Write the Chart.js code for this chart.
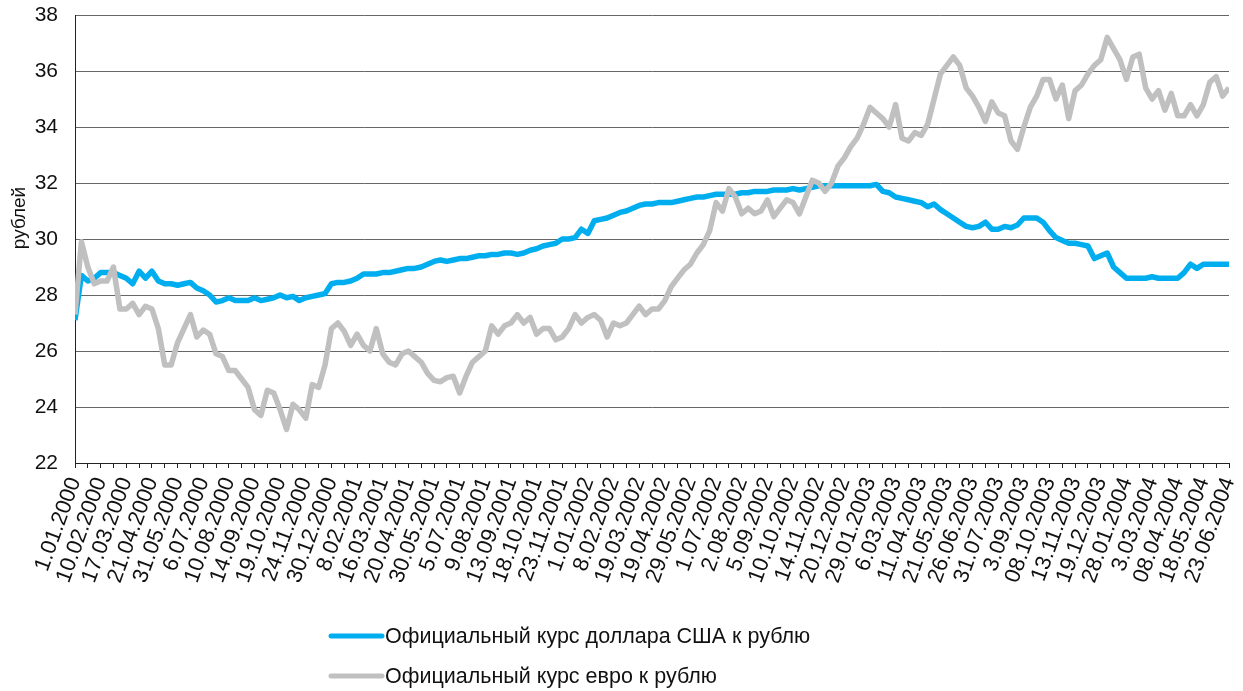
<!DOCTYPE html>
<html>
<head>
<meta charset="utf-8">
<script src="https://cdn.jsdelivr.net/npm/chart.js@4/dist/chart.umd.min.js"></script>
<style>
  html, body { margin: 0; padding: 0; background: #fff; }
  canvas { display: block; }
</style>
</head>
<body>
<canvas id="rateChart" width="1243" height="691"></canvas>
<script>
// ─── Data ─────────────────────────────────────────────────────────────────────

// date labels, one every 4 samples
const dateLabels = [
  '1.01.2000', '10.02.2000', '17.03.2000', '21.04.2000', '31.05.2000', '6.07.2000',
  '10.08.2000', '14.09.2000', '19.10.2000', '24.11.2000', '30.12.2000', '8.02.2001',
  '16.03.2001', '20.04.2001', '30.05.2001', '5.07.2001', '9.08.2001', '13.09.2001',
  '18.10.2001', '23.11.2001', '1.01.2002', '8.02.2002', '19.03.2002', '19.04.2002',
  '29.05.2002', '1.07.2002', '2.08.2002', '5.09.2002', '10.10.2002', '14.11.2002',
  '20.12.2002', '29.01.2003', '6.03.2003', '11.04.2003', '21.05.2003', '26.06.2003',
  '31.07.2003', '3.09.2003', '08.10.2003', '13.11.2003', '19.12.2003', '28.01.2004',
  '3.03.2004', '08.04.2004', '18.05.2004', '23.06.2004',
];
const SAMPLES_PER_LABEL = 4;

const usdRates = [
  27.1, 28.7, 28.5, 28.6, 28.8, 28.8, 28.8, 28.7, 28.6, 28.4,
  28.85, 28.6, 28.85, 28.5, 28.4, 28.4, 28.35, 28.4, 28.45, 28.25,
  28.15, 28.0, 27.75, 27.8, 27.9, 27.8, 27.8, 27.8, 27.9, 27.8,
  27.85, 27.9, 28.0, 27.9, 27.95, 27.8, 27.9, 27.95, 28.0, 28.05,
  28.4, 28.45, 28.45, 28.5, 28.6, 28.75, 28.75, 28.75, 28.8, 28.8,
  28.85, 28.9, 28.95, 28.95, 29.0, 29.1, 29.2, 29.25, 29.2, 29.25,
  29.3, 29.3, 29.35, 29.4, 29.4, 29.45, 29.45, 29.5, 29.5, 29.45,
  29.5, 29.6, 29.65, 29.75, 29.8, 29.85, 30.0, 30.0, 30.05, 30.35,
  30.2, 30.65, 30.7, 30.75, 30.85, 30.95, 31.0, 31.1, 31.2, 31.25,
  31.25, 31.3, 31.3, 31.3, 31.35, 31.4, 31.45, 31.5, 31.5, 31.55,
  31.6, 31.6, 31.6, 31.6, 31.65, 31.65, 31.7, 31.7, 31.7, 31.75,
  31.75, 31.75, 31.8, 31.75, 31.8, 31.85, 31.9, 31.9, 31.9, 31.9,
  31.9, 31.9, 31.9, 31.9, 31.9, 31.95, 31.7, 31.65, 31.5, 31.45,
  31.4, 31.35, 31.3, 31.15, 31.25, 31.05, 30.9, 30.75, 30.6, 30.45,
  30.4, 30.45, 30.6, 30.35, 30.35, 30.45, 30.4, 30.5, 30.75, 30.75,
  30.75, 30.6, 30.3, 30.05, 29.95, 29.85, 29.85, 29.8, 29.75, 29.3,
  29.4, 29.5, 29.0, 28.8, 28.6, 28.6, 28.6, 28.6, 28.65, 28.6,
  28.6, 28.6, 28.6, 28.8, 29.1, 28.95, 29.1, 29.1, 29.1, 29.1, 29.1,
];

const eurRates = [
  27.3, 29.9, 29.0, 28.4, 28.5, 28.5, 29.0, 27.5, 27.5, 27.7,
  27.3, 27.6, 27.5, 26.8, 25.5, 25.5, 26.3, 26.8, 27.3, 26.5,
  26.75, 26.6, 25.9, 25.8, 25.3, 25.3, 25.0, 24.7, 23.9, 23.7,
  24.6, 24.5, 23.9, 23.2, 24.1, 23.9, 23.6, 24.8, 24.7, 25.5,
  26.8, 27.0, 26.7, 26.2, 26.6, 26.2, 26.0, 26.8, 25.9, 25.6,
  25.5, 25.9, 26.0, 25.8, 25.6, 25.2, 24.95, 24.9, 25.05, 25.1,
  24.5, 25.1, 25.6, 25.8, 26.0, 26.9, 26.6, 26.9, 27.0, 27.3,
  27.0, 27.2, 26.6, 26.8, 26.8, 26.4, 26.5, 26.8, 27.3, 27.0,
  27.2, 27.3, 27.1, 26.5, 27.0, 26.9, 27.0, 27.3, 27.6, 27.3,
  27.5, 27.5, 27.8, 28.3, 28.6, 28.9, 29.1, 29.5, 29.8, 30.3,
  31.3, 31.0, 31.8, 31.5, 30.9, 31.1, 30.9, 31.0, 31.4, 30.8,
  31.1, 31.4, 31.3, 30.9, 31.5, 32.1, 32.0, 31.7, 32.0, 32.6,
  32.9, 33.3, 33.6, 34.1, 34.7, 34.5, 34.3, 34.0, 34.8, 33.6,
  33.5, 33.8, 33.7, 34.1, 35.0, 35.9, 36.2, 36.5, 36.2, 35.4,
  35.1, 34.7, 34.2, 34.9, 34.5, 34.4, 33.5, 33.2, 34.0, 34.7,
  35.1, 35.7, 35.7, 35.0, 35.5, 34.3, 35.3, 35.5, 35.9, 36.2,
  36.4, 37.2, 36.8, 36.4, 35.7, 36.5, 36.6, 35.4, 35.0, 35.3,
  34.6, 35.2, 34.4, 34.4, 34.8, 34.4, 34.8, 35.6, 35.8, 35.1, 35.4,
];

const seriesNames = [
  'Официальный курс доллара США к рублю',
  'Официальный курс евро к рублю',
];
const seriesColors = ['#00aeef', '#c0c0c0'];
const yAxisTitle = 'рублей';

// ─── Helpers ──────────────────────────────────────────────────────────────────

const FONT = "'Liberation Sans', Arial, sans-serif";
const toPoints = arr => arr.map((y, x) => ({ x, y }));

// y title + legend stacked in two rows under the axis labels
const extraText = {
  id: 'extraText',
  afterDraw(chart) {
    const { ctx } = chart;
    ctx.save();

    ctx.fillStyle = '#111';
    ctx.font = `19px ${FONT}`;
    ctx.textAlign = 'center';
    ctx.textBaseline = 'middle';
    ctx.translate(20, 218);
    ctx.rotate(-Math.PI / 2);
    ctx.fillText(yAxisTitle, 0, 0);
    ctx.setTransform(1, 0, 0, 1, 0, 0);

    const rows = [636, 676];
    chart.data.datasets.forEach((ds, i) => {
      const y = rows[i];
      ctx.strokeStyle = ds.borderColor;
      ctx.lineWidth = 5;
      ctx.lineCap = 'round';
      ctx.beginPath();
      ctx.moveTo(331, y);
      ctx.lineTo(382, y);
      ctx.stroke();
      ctx.fillStyle = '#111';
      ctx.font = `21.5px ${FONT}`;
      ctx.textBaseline = 'middle';
      ctx.textAlign = 'left';
      ctx.fillText(ds.label, 385, y + 1);
    });
    ctx.restore();
  },
};

// ─── Chart ────────────────────────────────────────────────────────────────────

new Chart(document.getElementById('rateChart'), {
  type: 'line',
  data: {
    datasets: [
      {
        label: seriesNames[0],
        data: toPoints(usdRates),
        borderColor: seriesColors[0],
        borderWidth: 5.5,
        pointRadius: 0,
        borderJoinStyle: 'round',
        order: 1,
      },
      {
        label: seriesNames[1],
        data: toPoints(eurRates),
        borderColor: seriesColors[1],
        borderWidth: 5.5,
        pointRadius: 0,
        borderJoinStyle: 'round',
        order: 0,
      },
    ],
  },
  options: {
    responsive: false,
    animation: false,
    layout: { padding: { top: 15, right: 14, bottom: 100, left: 0 } },
    plugins: {
      legend: { display: false },
      tooltip: { enabled: false },
    },
    scales: {
      x: {
        type: 'linear',
        min: 0,
        max: (dateLabels.length - 1) * SAMPLES_PER_LABEL,
        afterFit: scale => {
          scale.height = 128;
          scale.paddingLeft = 0;
          scale.paddingRight = 0;
        },
        border: { color: '#222', width: 1 },
        grid: { drawOnChartArea: false, drawTicks: true, tickLength: 5, color: '#222' },
        ticks: {
          stepSize: 2,
          autoSkip: false,
          minRotation: 70,
          maxRotation: 70,
          padding: 6,
          color: '#111',
          font: { family: FONT, size: 22 },
          callback: v => (v % SAMPLES_PER_LABEL === 0 ? dateLabels[v / SAMPLES_PER_LABEL] : ''),
        },
      },
      y: {
        min: 22,
        max: 38,
        afterFit: scale => {
          scale.width = 75;
          scale.paddingTop = 0;
          scale.paddingBottom = 0;
        },
        border: { color: '#222', width: 1 },
        grid: { color: '#666', lineWidth: 1, drawTicks: false },
        ticks: {
          stepSize: 2,
          padding: 17,
          color: '#111',
          font: { family: FONT, size: 21 },
        },
      },
    },
  },
  plugins: [extraText],
});
</script>
</body>
</html>
